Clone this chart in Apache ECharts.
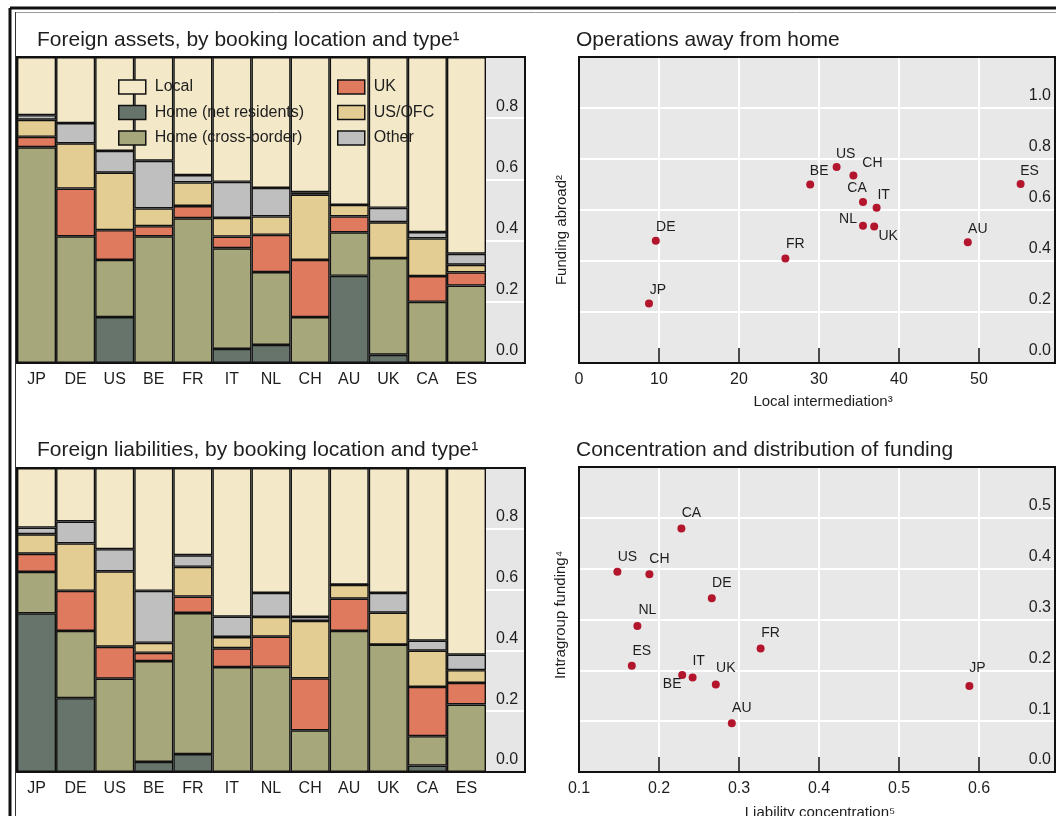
<!DOCTYPE html>
<html>
<head>
<meta charset="utf-8">
<script src="https://cdn.jsdelivr.net/npm/echarts@6/dist/echarts.min.js"></script>
<style>html,body{margin:0;padding:0;background:#fff;}#c{width:1056px;height:816px;}</style>
</head>
<body>
<div id="c"></div>
<script>
// ---------- data ----------
const cats = ['JP','DE','US','BE','FR','IT','NL','CH','AU','UK','CA','ES'];

const assetsHomeNet   = [0, 0, 0.150, 0, 0, 0.046, 0.059, 0, 0.285, 0.027, 0, 0];
const assetsHomeCross = [0.705, 0.414, 0.187, 0.414, 0.473, 0.329, 0.238, 0.150, 0.142, 0.316, 0.200, 0.253];
const assetsUK        = [0.034, 0.156, 0.097, 0.033, 0.040, 0.038, 0.122, 0.187, 0.052, 0, 0.084, 0.043];
const assetsUSOFC     = [0.056, 0.148, 0.188, 0.058, 0.077, 0.061, 0.060, 0.213, 0.038, 0.117, 0.123, 0.025];
const assetsOther     = [0.015, 0.066, 0.071, 0.156, 0.024, 0.118, 0.093, 0.008, 0, 0.047, 0.021, 0.036];
const assetsLocal     = [0.190, 0.216, 0.307, 0.339, 0.386, 0.408, 0.428, 0.442, 0.483, 0.493, 0.572, 0.643];

const liabHomeNet   = [0.522, 0.243, 0, 0.033, 0.059, 0, 0, 0, 0, 0, 0.021, 0];
const liabHomeCross = [0.136, 0.221, 0.307, 0.332, 0.464, 0.345, 0.346, 0.137, 0.464, 0.419, 0.097, 0.222];
const liabUK        = [0.060, 0.132, 0.105, 0.027, 0.054, 0.062, 0.099, 0.171, 0.106, 0, 0.162, 0.071];
const liabUSOFC     = [0.064, 0.156, 0.248, 0.033, 0.098, 0.037, 0.065, 0.189, 0.046, 0.105, 0.119, 0.042];
const liabOther     = [0.022, 0.072, 0.073, 0.171, 0.038, 0.067, 0.079, 0.013, 0, 0.065, 0.033, 0.051];
const liabLocal     = [0.196, 0.176, 0.267, 0.404, 0.287, 0.489, 0.411, 0.490, 0.384, 0.411, 0.568, 0.614];

const opsNames   = ['JP','DE','FR','BE','US','CH','CA','IT','NL','UK','AU','ES'];
const opsLocal   = [8.75, 9.6, 25.8, 28.9, 32.2, 34.3, 35.5, 37.2, 35.5, 36.9, 48.6, 55.2];
const opsFunding = [0.233, 0.479, 0.41, 0.70, 0.769, 0.735, 0.631, 0.609, 0.538, 0.535, 0.474, 0.702];

const concNames = ['CA','US','CH','DE','NL','FR','ES','BE','IT','UK','AU','JP'];
const concLiab  = [0.228, 0.148, 0.188, 0.266, 0.173, 0.327, 0.166, 0.229, 0.242, 0.271, 0.291, 0.588];
const concIntra = [0.479, 0.394, 0.389, 0.342, 0.287, 0.243, 0.209, 0.191, 0.186, 0.172, 0.096, 0.169];

// ---------- styles ----------
const FONT = 'Liberation Sans, Arial, sans-serif';
const TXT = '#1e1e1e';
const colors = {
  'Home (net residents)': '#67746b',
  'Home (cross-border)': '#a6a77a',
  'UK': '#e07a5f',
  'US/OFC': '#e3cd92',
  'Other': '#bfbfbf',
  'Local': '#f3e9c9'
};
const opsLabelOffsets = {
  JP:[9,-13], DE:[10,-14], FR:[10,-14], BE:[9,-13], US:[9,-13], CH:[19,-12],
  CA:[-6,-14], IT:[7,-13], NL:[-15,-7], UK:[14,10], AU:[10,-13], ES:[9,-13]
};
const concLabelOffsets = {
  CA:[10,-15], US:[10,-15], CH:[10,-15], DE:[10,-15], NL:[10,-16], FR:[10,-15],
  ES:[10,-15], BE:[-10,9], IT:[6,-16], UK:[10,-16], AU:[10,-15], JP:[8,-18]
};

const chart = echarts.init(document.getElementById('c'), null, {renderer:'canvas'});

function barSeries(name, data, xi, yi) {
  return {
    name, type:'bar', stack:'s'+xi, xAxisIndex:xi, yAxisIndex:yi, data,
    barWidth:'100%', barCategoryGap:'0%',
    itemStyle:{color:colors[name], borderColor:'#111', borderWidth:1.4},
    emphasis:{disabled:true}, silent:true
  };
}
function catAxis(gi) {
  return {type:'category', gridIndex:gi, data:cats,
    axisLine:{show:false}, axisTick:{show:false},
    axisLabel:{fontSize:16, color:TXT, fontFamily:FONT, margin:9}};
}
function stripY(gi) {
  return {type:'value', gridIndex:gi, min:0, max:1, interval:0.2,
    axisLine:{show:false}, axisTick:{show:false},
    splitLine:{show:true, showMinLine:false, showMaxLine:false, lineStyle:{color:'#fff', width:2}},
    axisLabel:{inside:true, margin:10, verticalAlign:'bottom', padding:[0,0,4,0], fontSize:16, color:TXT, fontFamily:FONT,
      showMaxLabel:false, formatter:v => v.toFixed(1)}};
}
function scatterData(names, xs, ys, offsets) {
  return names.map((n,i) => ({name:n, value:[xs[i], ys[i]], label:{offset:offsets[n]}}));
}
function scatterSeries(data, xi, yi) {
  return {type:'scatter', xAxisIndex:xi, yAxisIndex:yi, data, symbolSize:8,
    itemStyle:{color:'#b3162c', opacity:1}, silent:true,
    label:{show:true, position:'inside', formatter:'{b}', fontSize:14, color:TXT, fontFamily:FONT}};
}
function scatX(gi, min, max, interval, dec) {
  return {type:'value', gridIndex:gi, min, max, interval,
    axisLine:{show:true, onZero:false, lineStyle:{color:'#111', width:2}},
    axisTick:{show:true, inside:true, length:15, lineStyle:{color:'#111', width:1.5}},
    splitLine:{show:true, showMinLine:false, showMaxLine:false, lineStyle:{color:'#fff', width:2}},
    axisLabel:{fontSize:16, color:TXT, fontFamily:FONT, margin:9, showMaxLabel:false,
      formatter:v => v.toFixed(dec)}};
}
function scatY(gi, max, interval) {
  return {type:'value', gridIndex:gi, position:'right', min:0, max, interval,
    axisLine:{show:false}, axisTick:{show:false},
    splitLine:{show:true, showMinLine:false, showMaxLine:false, lineStyle:{color:'#fff', width:2}},
    axisLabel:{inside:true, margin:4, verticalAlign:'bottom', padding:[0,0,4,0], fontSize:16, color:TXT, fontFamily:FONT,
      showMaxLabel:false, formatter:v => v.toFixed(1)}};
}
function txt(text, x, y, size, align, rotation) {
  const el = {type:'text', x, y, z:100, silent:true,
    style:{text, x:0, y:0, fontSize:size, fontFamily:FONT, fill:TXT, align:align||'left', verticalAlign:'middle'}};
  if (rotation) el.rotation = rotation;
  return el;
}
function frame(x, y, w, h, lw) {
  return {type:'rect', z:90, silent:true, shape:{x, y, width:w, height:h},
    style:{fill:'none', stroke:'#111', lineWidth:lw}};
}
function line(x1,y1,x2,y2,color,lw){
  return {type:'line', z:95, silent:true, shape:{x1,y1,x2,y2}, style:{stroke:color, lineWidth:lw}};
}

const segNames = ['Home (net residents)','Home (cross-border)','UK','US/OFC','Other','Local'];
const assets = [assetsHomeNet, assetsHomeCross, assetsUK, assetsUSOFC, assetsOther, assetsLocal];
const liabs  = [liabHomeNet, liabHomeCross, liabUK, liabUSOFC, liabOther, liabLocal];

const series = [];
segNames.forEach((n,i) => series.push(barSeries(n, assets[i], 0, 0)));
segNames.forEach((n,i) => series.push(barSeries(n, liabs[i], 3, 3)));
series.push(scatterSeries(scatterData(opsNames, opsLocal, opsFunding, opsLabelOffsets), 2, 2));
series.push(scatterSeries(scatterData(concNames, concLiab, concIntra, concLabelOffsets), 5, 5));

const legendCommon = {orient:'vertical', itemWidth:27, itemHeight:14, itemGap:9.5, icon:'rect', padding:0,
  textStyle:{fontSize:16, color:TXT, fontFamily:FONT, padding:[0,0,0,4]},
  itemStyle:{borderColor:'#111', borderWidth:1.5}, selectedMode:false};

const option = {
  backgroundColor:'#fff',
  animation:false,
  legend:[
    Object.assign({left:118, top:79, data:['Local','Home (net residents)','Home (cross-border)']}, legendCommon),
    Object.assign({left:337, top:79, data:['UK','US/OFC','Other']}, legendCommon)
  ],
  grid:[
    {left:17, top:57, width:469, height:306},
    {left:486, top:57, width:39, height:306, show:true, backgroundColor:'#e6e6e6', borderWidth:0},
    {left:579, top:57, width:476, height:306, show:true, backgroundColor:'#e8e8e8', borderWidth:0},
    {left:17, top:468, width:469, height:304},
    {left:486, top:468, width:39, height:304, show:true, backgroundColor:'#e6e6e6', borderWidth:0},
    {left:579, top:467, width:476, height:305, show:true, backgroundColor:'#e8e8e8', borderWidth:0}
  ],
  xAxis:[
    catAxis(0),
    {type:'value', gridIndex:1, show:false},
    scatX(2, 0, 59.5, 10, 0),
    catAxis(3),
    {type:'value', gridIndex:4, show:false},
    scatX(5, 0.1, 0.695, 0.1, 1)
  ],
  yAxis:[
    {type:'value', gridIndex:0, min:0, max:1, show:false},
    stripY(1),
    scatY(2, 1.2, 0.2),
    {type:'value', gridIndex:3, min:0, max:1, show:false},
    stripY(4),
    scatY(5, 0.6, 0.1)
  ],
  series,
  graphic:[
    line(10, 8, 1056, 8, '#111', 3),
    line(15, 12.5, 1056, 12.5, '#999', 1),
    line(10, 8, 10, 816, '#111', 3),
    line(15.5, 12, 15.5, 816, '#333', 1),
    frame(17, 57, 508, 306, 2),
    frame(17, 468, 508, 304, 2),
    frame(579, 57, 476, 306, 2),
    frame(579, 467, 476, 305, 2),
    txt('Foreign assets, by booking location and type\u00B9', 37, 40, 21),
    txt('Operations away from home', 576, 40, 21),
    txt('Foreign liabilities, by booking location and type\u00B9', 37, 450, 21),
    txt('Concentration and distribution of funding', 576, 450, 21),
    txt('Local intermediation\u00B3', 823, 402, 15, 'center'),
    txt('Liability concentration\u2075', 820, 813, 15, 'center'),
    txt('Funding abroad\u00B2', 562, 230, 15, 'center', Math.PI/2),
    txt('Intragroup funding\u2074', 561, 615, 15, 'center', Math.PI/2)
  ]
};
chart.setOption(option);
</script>
</body>
</html>
